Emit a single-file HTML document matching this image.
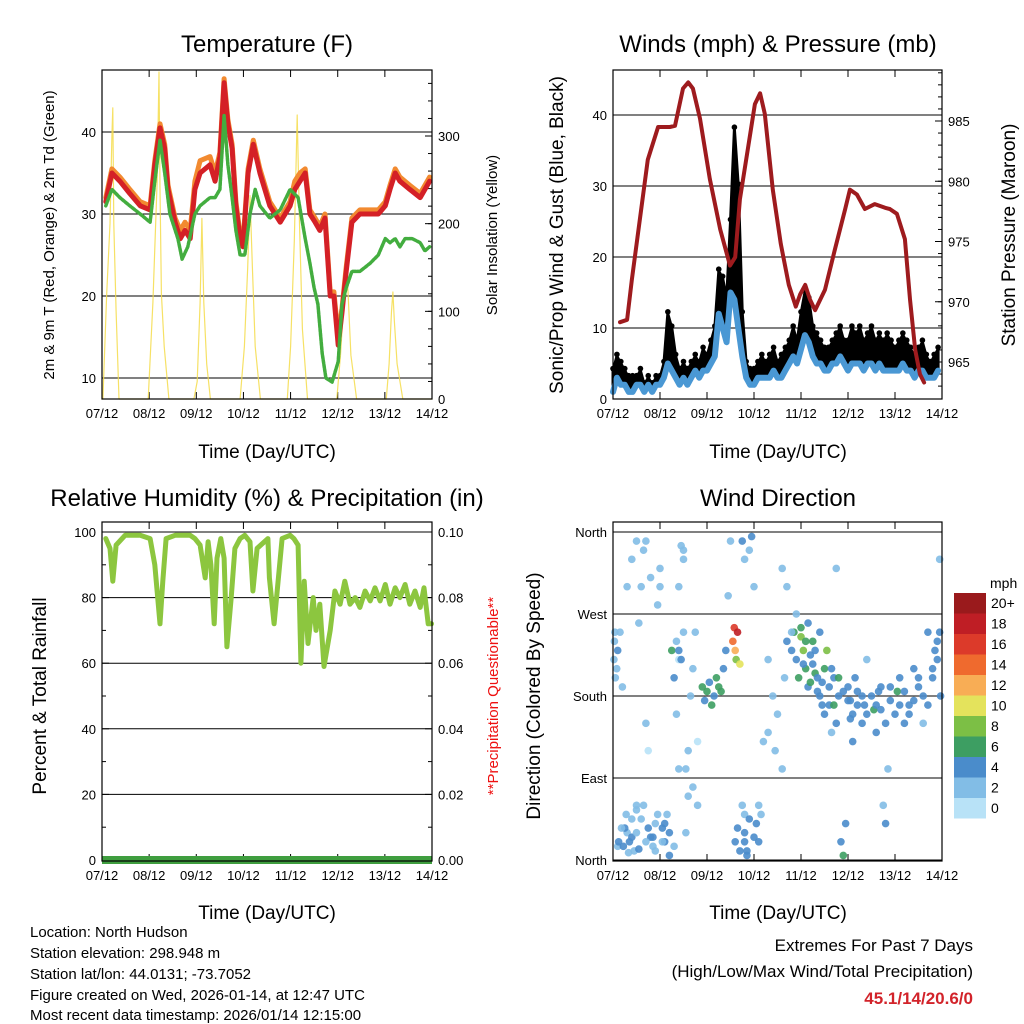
<!DOCTYPE html>
<html><head><meta charset="utf-8"><style>
body{margin:0;background:#fff;}
svg{display:block;font-family:"Liberation Sans",sans-serif;}
</style></head><body>
<svg id="chart" width="1024" height="1024" viewBox="0 0 1024 1024" xmlns="http://www.w3.org/2000/svg">
<g id="layer"></g>
<text x="267" y="52" font-size="24" text-anchor="middle">Temperature (F)</text>
<text x="778" y="52" font-size="24" text-anchor="middle">Winds (mph) &amp; Pressure (mb)</text>
<text x="267" y="506" font-size="24" text-anchor="middle">Relative Humidity (%) &amp; Precipitation (in)</text>
<text x="778" y="506" font-size="24" text-anchor="middle">Wind Direction</text>
<text x="267" y="458" font-size="19" text-anchor="middle">Time (Day/UTC)</text>
<text x="778" y="458" font-size="19" text-anchor="middle">Time (Day/UTC)</text>
<text x="267" y="919" font-size="19" text-anchor="middle">Time (Day/UTC)</text>
<text x="778" y="919" font-size="19" text-anchor="middle">Time (Day/UTC)</text>
<text transform="translate(54,235) rotate(-90)" font-size="15" text-anchor="middle">2m &amp; 9m T (Red, Orange) &amp; 2m Td (Green)</text>
<text transform="translate(497,235) rotate(-90)" font-size="15" text-anchor="middle">Solar Insolation (Yellow)</text>
<text transform="translate(563,235) rotate(-90)" font-size="19" text-anchor="middle">Sonic/Prop Wind &amp; Gust (Blue, Black)</text>
<text transform="translate(1015,235) rotate(-90)" font-size="19" text-anchor="middle">Station Pressure (Maroon)</text>
<text transform="translate(46,696) rotate(-90)" font-size="19" text-anchor="middle">Percent &amp; Total Rainfall</text>
<text transform="translate(498,696) rotate(-90)" font-size="15" text-anchor="middle" fill="#ee1111">**Precipitation Questionable**</text>
<text transform="translate(540,696) rotate(-90)" font-size="19" text-anchor="middle">Direction (Colored By Speed)</text>
<g font-size="15">
<text x="30" y="937">Location: North Hudson</text>
<text x="30" y="958">Station elevation: 298.948 m</text>
<text x="30" y="979">Station lat/lon: 44.0131; -73.7052</text>
<text x="30" y="1000">Figure created on Wed, 2026-01-14, at 12:47 UTC</text>
<text x="30" y="1020">Most recent data timestamp: 2026/01/14 12:15:00</text>
</g>
<text x="973" y="951" font-size="17" text-anchor="end">Extremes For Past 7 Days</text>
<text x="973" y="977" font-size="17" text-anchor="end">(High/Low/Max Wind/Total Precipitation)</text>
<text x="973" y="1004" font-size="17" font-weight="bold" text-anchor="end" fill="#d2232a">45.1/14/20.6/0</text>
</svg>
<script>
const dayLabels=["07/12","08/12","09/12","10/12","11/12","12/12","13/12","14/12"];
const tDays=[0.08,0.21,0.38,0.59,0.81,1.02,1.12,1.23,1.33,1.40,1.55,1.66,1.76,1.87,1.97,2.08,2.29,2.40,2.50,2.59,2.67,2.76,2.84,2.93,2.99,3.10,3.21,3.35,3.56,3.78,3.99,4.09,4.20,4.31,4.41,4.52,4.62,4.73,4.84,4.92,5.01,5.09,5.18,5.30,5.47,5.69,5.86,6.01,6.11,6.22,6.32,6.53,6.75,6.95];
const tRed=[31.5,35,34,32.5,31,30.5,36,40.5,38,33,29,27,28,27,33,35,36,34,37,46,41,38,31,27,26,35,38.5,35,31,29,31,33,34,35,30,29,28,29.5,20,20,14,18,23,29,30,30,30,31,33,35,34,33,32,34];
const tOrange=[32,35.5,34.5,33,31.5,31,36.5,41,38.5,33.5,29.5,28,29,28,34,36.5,37,35,37.5,46.5,41.5,38.5,31.5,27.5,26.5,35.5,39,35.5,31.5,29.5,31.5,34,35,35.5,30.5,29.5,28.5,30,20.5,20.5,15,18.5,23.5,29.5,30.5,30.5,30.5,31.5,33.5,35.5,34.5,33.5,32.5,34.5];
const tdDays=[0.08,0.21,0.38,0.59,0.81,1.02,1.12,1.23,1.33,1.44,1.61,1.70,1.82,1.97,2.08,2.29,2.40,2.50,2.59,2.67,2.76,2.84,2.93,3.03,3.14,3.25,3.35,3.56,3.78,3.99,4.16,4.31,4.41,4.50,4.58,4.67,4.75,4.88,5.01,5.09,5.18,5.30,5.47,5.69,5.86,6.01,6.11,6.22,6.32,6.43,6.58,6.75,6.85,6.95];
const tDew=[31,33,32,31,30,29,34,39,35,30,27,24.5,26,30,31,32,32,33,42,36,32,28,25,25,30,33,31,29.5,30.5,33,32,27,24,21,19,13,10,9.5,12,19,21,23,23,24,25,27,26.5,27,26,27,27,26.5,25.5,26];
const solarDays=[0.0,0.02,0.10,0.17,0.21,0.23,0.25,0.30,0.36,0.8,0.98,1.08,1.17,1.21,1.23,1.26,1.32,1.42,1.95,2.02,2.08,2.12,2.16,2.22,2.30,2.93,3.02,3.09,3.14,3.19,3.25,3.36,3.93,4.00,4.08,4.14,4.19,4.25,4.36,4.98,5.06,5.14,5.18,5.22,5.28,5.40,6.03,6.09,6.14,6.17,6.20,6.26,6.38,7.0];
const solarVals=[0,0,120,200,300,332,200,100,0,0,0,110,250,373,240,120,60,0,0,20,110,206,110,40,0,0,60,150,232,150,60,0,0,60,180,324,200,80,0,0,50,120,160,120,50,0,0,40,100,122,90,40,0,0];
const gust=[4,6,5,4,3,3,3,4,2,3,2,3, 3,5,12,10,6,4,5,4,5,6,5,7, 6,8,10,18,17,14,25,38,30,12,5,4, 4,5,6,5,6,7,5,6,7,8,10,8, 12,15,14,10,9,8,7,7,8,9,10,8, 8,10,9,10,8,9,10,8,9,8,9,8, 7,8,9,8,7,6,7,8,6,5,6,7];
const wind=[1,3,2,2,1,1,2,2,1,2,1,2, 2,3,5,4,3,2,3,2,3,4,3,4, 4,5,6,12,10,8,15,14,10,6,3,2, 2,3,3,3,3,4,3,3,4,5,6,5, 7,9,8,6,5,5,4,4,5,5,6,5, 4,5,5,5,4,5,5,4,5,4,4,4, 4,4,5,4,4,3,4,4,3,3,3,4];
const presDays=[0.15,0.30,0.40,0.57,0.74,0.96,1.21,1.32,1.49,1.60,1.70,1.85,2.06,2.28,2.49,2.60,2.70,2.87,3.02,3.13,3.23,3.40,3.57,3.74,3.89,3.98,4.09,4.19,4.30,4.51,4.72,4.94,5.04,5.19,5.36,5.57,5.79,5.89,6.04,6.21,6.32,6.43,6.53,6.62];
const presVals=[968.3,968.5,971.8,976.8,981.8,984.5,984.5,984.6,987.7,988.2,987.7,985.2,980.2,976,973,973.7,978.5,982.7,986.4,987.3,985.6,979.3,974.8,971.4,969.6,970.6,971.4,970.2,969.3,971,974.3,977.7,979.3,978.9,977.7,978.1,977.8,977.7,977.3,975.2,970.2,966,964,963.3];
const rhDays=[0.08,0.17,0.23,0.30,0.49,0.81,1.02,1.12,1.23,1.29,1.36,1.55,1.87,1.97,2.08,2.19,2.25,2.31,2.38,2.44,2.52,2.59,2.65,2.74,2.82,2.93,3.03,3.14,3.20,3.29,3.52,3.55,3.65,3.82,3.99,4.07,4.16,4.22,4.29,4.37,4.48,4.54,4.62,4.71,4.84,4.94,5.05,5.15,5.26,5.37,5.47,5.58,5.69,5.79,5.90,6.01,6.11,6.22,6.32,6.43,6.53,6.64,6.75,6.83,6.92,6.99];
const rhVals=[98,95,85,96,99,99,98,90,72,85,98,99,99,98,96,86,97,90,72,92,98,92,65,80,95,98,99,97,82,95,98,86,72,98,99,98,96,60,85,66,80,70,78,59,70,82,78,85,78,80,77,82,79,83,79,84,78,83,80,84,78,82,77,83,72,72];
const dirDay=[0.05,0.1,0.15,0.2,0.3,0.35,0.4,0.45,0.5,0.55,0.6,0.65,0.7,0.75,0.8,0.85,0.9,0.95,1.0,1.05,1.1,1.15,1.2,1.25,1.3,1.35,1.4,1.45,1.5,1.55,1.6,1.65,1.7,1.75,1.8,1.9,1.95,2.0,2.05,2.1,2.15,2.2,2.25,2.3,2.35,2.4,2.45,2.5,2.55,2.58,2.6,2.62,2.65,2.7,2.75,2.8,2.85,2.9,2.95,3.0,3.05,3.1,3.15,3.2,3.3,3.4,3.5,3.6,3.65,3.7,3.8,3.85,3.9,3.95,4.0,4.05,4.1,4.15,4.2,4.25,4.3,4.35,4.4,4.45,4.5,4.55,4.6,4.65,4.7,4.75,4.8,4.85,4.9,4.95,5.0,5.05,5.1,5.15,5.2,5.3,5.35,5.4,5.5,5.55,5.6,5.7,5.75,5.8,5.85,5.9,6.0,6.05,6.1,6.2,6.3,6.4,6.5,6.6,6.7,6.8,6.9,6.95,6.97,0.1,0.25,0.5,0.7,1.0,1.4,3.3,3.45,2.8,2.85,
0.02,0.03,0.04,0.08,0.12,0.18,0.22,0.28,0.33,0.4,0.5,0.55,0.6,0.65,0.7,0.75,0.85,0.9,0.95,1.05,1.1,1.2,1.3,1.35,1.4,1.45,1.5,1.55,1.6,1.7,1.8,0.3,0.4,0.5,0.8,1.4,1.5,2.6,2.65,2.7,2.8,2.9,3.0,3.1,2.75,2.8,3.6,3.7,3.8,3.9,4.0,4.05,4.1,4.15,4.2,4.25,4.3,4.35,4.4,4.45,4.5,4.6,4.65,4.7,4.75,4.8,4.9,5.0,5.05,5.1,5.2,5.3,5.4,5.6,5.65,5.7,5.8,5.9,6.1,6.2,6.3,6.4,6.5,6.6,6.7,6.8,6.85,6.9,6.95];
const dirDeg=[200,230,250,190,30,20,45,10,60,260,300,340,150,120,25,15,40,280,320,35,20,50,5,230,200,160,100,345,330,30,70,180,210,250,130,190,175,185,195,170,180,200,190,185,210,230,290,350,240,255,230,220,250,215,60,30,10,340,355,300,40,20,50,130,220,180,160,100,200,240,230,250,220,200,245,230,210,190,225,240,205,185,250,195,210,230,170,140,200,320,180,20,5,40,190,175,160,200,185,150,170,220,180,165,140,190,60,40,100,175,160,185,200,150,170,210,190,150,250,200,220,330,180,15,35,55,350,300,220,140,120,20,5,
220,240,250,210,20,35,15,50,8,25,30,12,45,60,20,35,25,10,50,20,40,30,15,240,230,220,250,100,120,80,60,300,330,350,310,300,340,20,35,10,50,45,25,60,350,330,320,300,250,270,255,215,240,260,195,215,230,200,180,170,160,190,210,170,150,200,185,175,155,130,170,180,160,170,185,165,150,190,170,185,160,175,200,180,170,210,230,240,250];
const dirSpd=[2,3,2,1,2,3,1,2,1,2,1,1,1,0,3,2,2,1,1,3,3,2,3,5,3,1,1,2,1,2,1,1,2,1,0,5,4,5,4,5,3,6,5,6,4,3,1,1,14,16,12,8,18,10,2,3,4,2,3,1,3,4,2,1,2,1,2,1,2,3,4,5,3,6,8,7,5,4,4,6,5,4,4,3,5,8,4,2,3,2,4,4,5,4,4,3,4,3,4,3,4,2,4,5,4,3,2,3,2,4,4,5,3,4,4,3,4,2,3,4,4,1,3,2,3,1,2,1,0,2,1,4,3,
2,2,2,1,3,2,3,2,2,3,2,3,2,1,2,3,3,2,2,2,3,3,2,2,3,4,2,1,1,1,1,1,1,1,1,1,1,3,4,3,2,3,3,2,4,2,2,1,2,1,5,4,6,4,5,4,4,3,4,4,3,4,3,5,3,5,4,3,4,4,4,3,4,3,4,3,4,4,3,3,3,4,3,3,3,4,3,3,4];
const speedLabels=["0","2","4","6","8","10","12","14","16","18","20+"];
const speedColors=["#b8e2f7","#82bde6","#4a8ccb","#3d9e62","#7cbf45","#e4e35c","#f8ad55","#ef6a2e","#dc3a2a","#bf1e25","#9a1a1c"];

const NS="http://www.w3.org/2000/svg";
const layer=document.getElementById('layer');
function mk(tag,attrs,parent){const e=document.createElementNS(NS,tag);for(const k in attrs)e.setAttribute(k,attrs[k]);(parent||layer).appendChild(e);return e;}
function lin(d0,d1,r0,r1){return v=>r0+(v-d0)/(d1-d0)*(r1-r0);}

function frame(name,x0,y0,x1,y1){
  const g=mk('g',{});
  
  
  const xs=lin(0,7,x0,x1);
  dayLabels.forEach((lb,i)=>{
    const x=xs(i);
    mk('line',{x1:x,x2:x,y1:y1,y2:y1-7,stroke:'#000','stroke-width':1},g);
    mk('line',{x1:x,x2:x,y1:y0,y2:y0+7,stroke:'#000','stroke-width':1},g);
    const t=mk('text',{x:x,y:y1+19,'font-size':13,'text-anchor':'middle'},g);
    t.textContent=lb;
    
    
  });
  return {g,xs};
}
function border(x0,y0,x1,y1){mk('rect',{x:x0,y:y0,width:x1-x0,height:y1-y0,fill:'none',stroke:'#000','stroke-width':1.2});}
function yTicks(g,vals,ys,x,side,fmt,grid,x0,x1,minor){
  vals.forEach(v=>{
    const y=ys(v);
    if(grid){mk('line',{x1:x0,x2:x1,y1:y,y2:y,stroke:'#000','stroke-width':1},g);}
    mk('line',{x1:x,x2:x+(side<0?7:-7),y1:y,y2:y,stroke:'#000'},g);
    const t=mk('text',{x:side<0?x-6:x+6,y:y+5,'font-size':13,'text-anchor':side<0?'end':'start'},g);
    t.textContent=fmt(v);
    
    
  });
  if(minor){minor.forEach(v=>{const y=ys(v);mk('line',{x1:x,x2:x+(side<0?4:-4),y1:y,y2:y,stroke:'#000'},g);});}
}
function poly(xs,ys,dx,dy,attrs,name){
  const pts=dx.map((d,i)=>xs(d).toFixed(1)+','+ys(dy[i]).toFixed(1)).join(' ');
  const p=mk('polyline',Object.assign({points:pts,fill:'none','stroke-linejoin':'round','stroke-linecap':'round'},attrs));
  
  
  return p;
}

(function(){
  const X0=102,Y0=70,X1=432,Y1=399;
  const {g,xs}=frame('temperature',X0,Y0,X1,Y1);
  const ys=lin(10,40,378,132);
  const ys2=lin(0,300,399,136);
  yTicks(g,[10,20,30,40],ys,X0,-1,v=>v,true,X0,X1);
  const minR=[];for(let v=0;v<=370;v+=20)minR.push(v);
  yTicks(g,[0,100,200,300],ys2,X1,1,v=>v,false,X0,X1,minR);
  poly(xs,ys2,solarDays,solarVals,{stroke:'#f5dc4a','stroke-width':1.2,opacity:0.85},'solar-line');
  poly(xs,ys,tDays,tOrange,{stroke:'#f28a30','stroke-width':5},'temp-9m-line');
  poly(xs,ys,tDays,tRed,{stroke:'#d42026','stroke-width':5},'temp-2m-line');
  poly(xs,ys,tdDays,tDew,{stroke:'#43ad3f','stroke-width':3.5,'stroke-dasharray':'3 1.5'},'dewpoint-line');
  border(X0,Y0,X1,Y1);
})();

(function(){
  const X0=613,Y0=70,X1=942,Y1=399;
  const {g,xs}=frame('winds',X0,Y0,X1,Y1);
  const ys=lin(0,40,399,115);
  const ys2=lin(965,985,362,121);
  yTicks(g,[0,10,20,30,40],ys,X0,-1,v=>v,true,X0,X1);
  const minR=[];for(let v=963;v<=989;v++)minR.push(v);
  yTicks(g,[965,970,975,980,985],ys2,X1,1,v=>v,false,X0,X1,minR);
  const gd=gust.map((v,i)=>i/12);
  const top=gd.map((d,i)=>xs(d).toFixed(1)+','+ys(gust[i]).toFixed(1));
  const bot=gd.map((d,i)=>xs(d).toFixed(1)+','+ys(wind[i]).toFixed(1)).reverse();
  const band=mk('polygon',{points:top.concat(bot).join(' '),fill:'#000',stroke:'#000','stroke-width':3,'stroke-linejoin':'round'});
  
  
  gust.forEach((v,i)=>{const c=mk('circle',{cx:xs(gd[i]),cy:ys(v)-2,r:2.8,fill:'#000'});
    
    });
  poly(xs,ys,gd,wind,{stroke:'#4a98d4','stroke-width':6},'wind-line');
  poly(xs,ys2,presDays,presVals,{stroke:'#9e1b1e','stroke-width':4},'pressure-line');
  border(X0,Y0,X1,Y1);
})();

(function(){
  const X0=102,Y0=522,X1=432,Y1=861;
  const {g,xs}=frame('humidity',X0,Y0,X1,Y1);
  const ys=lin(0,100,860,532);
  yTicks(g,[0,20,40,60,80,100],ys,X0,-1,v=>v,true,X0,X1,[10,30,50,70,90]);
  yTicks(g,[0,20,40,60,80,100],ys,X1,1,v=>(v/1000).toFixed(2),false,X0,X1,[10,30,50,70,90]);
  poly(xs,ys,rhDays,rhVals,{stroke:'#8cc63f','stroke-width':5},'humidity-line');
  const pl=mk('line',{x1:X0,x2:X1,y1:ys(0),y2:ys(0),stroke:'#3f9e3f','stroke-width':8});
  
  
  border(X0,Y0,X1,Y1);
})();

(function(){
  const X0=613,Y0=522,X1=942,Y1=861;
  const {g,xs}=frame('direction',X0,Y0,X1,Y1);
  const ys=lin(0,360,860,532);
  const names={0:'North',90:'East',180:'South',270:'West',360:'North'};
  yTicks(g,[0,90,180,270,360],ys,X0,-1,v=>names[v],true,X0,X1);
  dirDay.forEach((d,i)=>{
    const idx=Math.min(10,Math.floor((dirSpd[i]+1)/2));
    const c=mk('circle',{cx:xs(d),cy:ys(dirDeg[i]),r:3.8,fill:speedColors[idx],opacity:0.9});
    
    
  });
  border(X0,Y0,X1,Y1);
  const lg=mk('g',{});
  
  
  const t=mk('text',{x:990,y:588,'font-size':14},lg);t.textContent='mph';
  for(let k=0;k<11;k++){
    const y=593+(10-k)*20.5;
    mk('rect',{x:954,y:y,width:32,height:20.5,fill:speedColors[k]},lg);
    const tl=mk('text',{x:991,y:y+15,'font-size':14},lg);tl.textContent=speedLabels[k];
  }
})();
</script>
</body></html>
